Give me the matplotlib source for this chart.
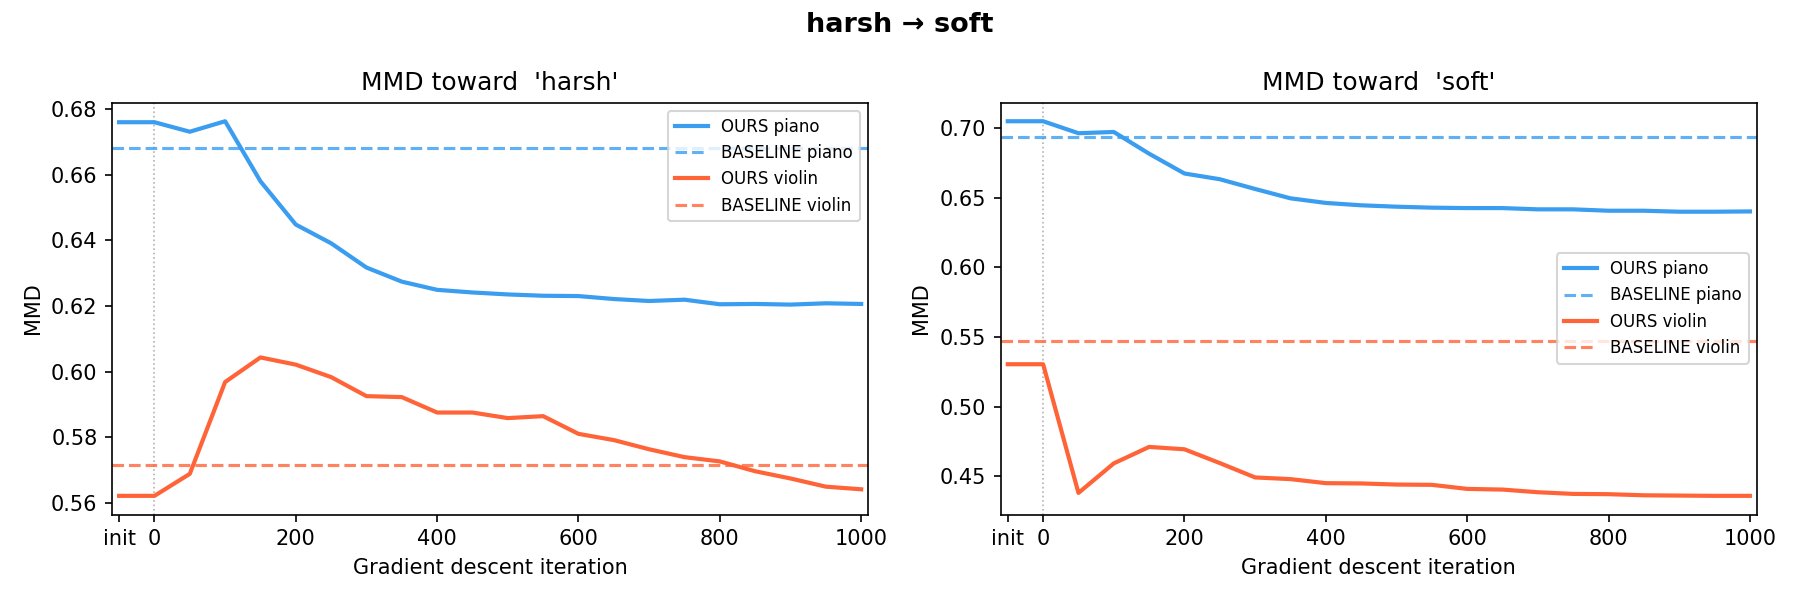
import numpy as np
import matplotlib.pyplot as plt

iters = [-50, 0, 50, 100, 150, 200, 250, 300, 350, 400, 450, 500, 550, 600, 650, 700, 750, 800, 850, 900, 950, 1000]

harsh_piano = [0.676, 0.676, 0.6731, 0.6763, 0.658, 0.6448, 0.6391, 0.6317, 0.6274, 0.6249, 0.6241, 0.6235, 0.6231, 0.623,
               0.6221, 0.6215, 0.6219, 0.6205, 0.6206, 0.6204, 0.6208, 0.6206]
harsh_violin = [0.5621, 0.5621, 0.5688, 0.5968, 0.6043, 0.6021, 0.5983, 0.5925, 0.5922, 0.5875, 0.5875, 0.5858, 0.5864, 0.581,
                0.5791, 0.5763, 0.5739, 0.5726, 0.5696, 0.5674, 0.5649, 0.5641]
harsh_base_piano = 0.668
harsh_base_violin = 0.5714

soft_piano = [0.7048, 0.7048, 0.6962, 0.6971, 0.6815, 0.6673, 0.6632, 0.6562, 0.6495, 0.6462, 0.6445, 0.6435, 0.6428, 0.6425,
              0.6425, 0.6416, 0.6416, 0.6406, 0.6406, 0.6399, 0.6399, 0.6401]
soft_violin = [0.5305, 0.5305, 0.4382, 0.4594, 0.4712, 0.4695, 0.4596, 0.4493, 0.4481, 0.4452, 0.445, 0.4442, 0.444, 0.4411,
               0.4406, 0.4387, 0.4375, 0.4373, 0.4365, 0.4363, 0.4361, 0.4361]
soft_base_piano = 0.6938
soft_base_violin = 0.5474

xticks = [-50, 0, 200, 400, 600, 800, 1000]
xticklabels = ['init', '0', '200', '400', '600', '800', '1000']

piano_c = '#3A9DF0'
violin_c = '#FF6438'

fig, axes = plt.subplots(1, 2, figsize=(12, 4), dpi=150)

panels = [
    (axes[0], "MMD toward  'harsh'", harsh_piano, harsh_violin, harsh_base_piano, harsh_base_violin, 'upper right'),
    (axes[1], "MMD toward  'soft'", soft_piano, soft_violin, soft_base_piano, soft_base_violin, 'center right'),
]

for ax, title, piano, violin, bp, bv, loc in panels:
    ax.axvline(0, color='gray', linestyle=':', linewidth=0.8, alpha=0.6)
    ax.plot(iters, piano, color=piano_c, linewidth=2, label='OURS piano')
    ax.axhline(bp, color=piano_c, linestyle='--', linewidth=1.5, alpha=0.8, label='BASELINE piano')
    ax.plot(iters, violin, color=violin_c, linewidth=2, label='OURS violin')
    ax.axhline(bv, color=violin_c, linestyle='--', linewidth=1.5, alpha=0.8, label='BASELINE violin')
    ax.set_title(title)
    ax.set_xlabel('Gradient descent iteration')
    ax.set_ylabel('MMD')
    ax.set_xticks(xticks)
    ax.set_xticklabels(xticklabels)
    ax.set_xlim(-60, 1010)
    ax.legend(loc=loc, fontsize=8)

fig.suptitle('harsh → soft', fontweight='bold', fontsize=13)
plt.tight_layout()
plt.savefig('out.png')
